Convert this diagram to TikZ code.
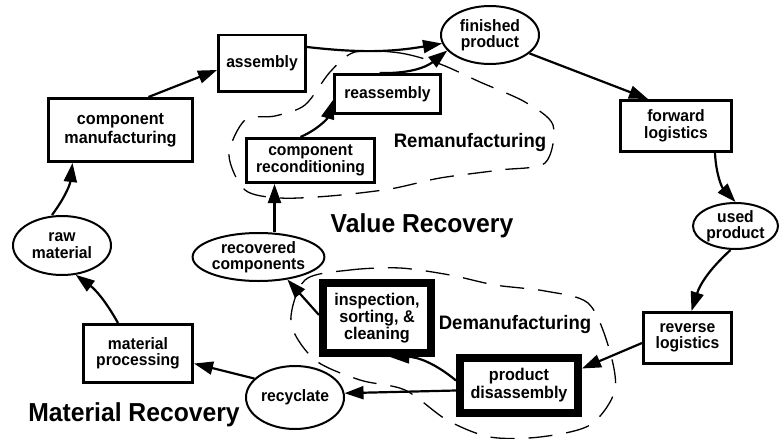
\documentclass[tikz,border=0pt]{standalone}
\usepackage{fontspec}
\setmainfont{Liberation Sans}[FakeStretch=0.95]
\usetikzlibrary{arrows.meta,calc,shapes.geometric}
\newcommand{\nodefnt}{\bfseries\fontsize{16.5}{16.5}\selectfont}
\begin{document}
\begin{tikzpicture}[x=1pt,y=-1pt,
  box/.style={draw, rectangle, line width=2.6pt, inner sep=0pt, align=center, font=\nodefnt},
  thickbox/.style={draw, rectangle, line width=8pt, inner sep=0pt, align=center, font=\nodefnt},
  oval/.style={draw, ellipse, line width=2pt, inner sep=0pt, align=center, font=\nodefnt},
  arr/.style={line width=2.2pt, -{Triangle[length=19pt,width=13pt]}},
  dashloop/.style={line width=1.3pt, dash pattern=on 24pt off 14pt},
  biglabel/.style={font=\bfseries\fontsize{26}{28}\selectfont},
  midlabel/.style={font=\bfseries\fontsize{19.5}{22}\selectfont}]
\fill[white] (0,0) rectangle (779,439);
\useasboundingbox (0,0) rectangle (779,439);

% nodes
\node[box, minimum width=87.4pt, minimum height=56.4pt] (asm) at (262,63) {assembly};
\node[box, minimum width=144.4pt, minimum height=63.4pt, font=\bfseries\fontsize{17}{19}\selectfont] (cm) at (120.5,130) {component\\manufacturing};
\node[oval, minimum width=98pt, minimum height=58pt] (fp) at (490,35) {finished\\product};
\node[box, minimum width=106.4pt, minimum height=39.4pt] (reasm) at (387.5,94) {reassembly};
\node[box, minimum width=128.4pt, minimum height=44.4pt] (crec) at (310.5,160.5) {component\\reconditioning};
\node[box, minimum width=111.4pt, minimum height=51.4pt] (fl) at (676,126) {forward\\logistics};
\node[oval, minimum width=85pt, minimum height=46pt] (up) at (735.5,226) {used\\product};
\node[box, minimum width=88.4pt, minimum height=51.4pt] (rl) at (687.5,338) {reverse\\logistics};
\node[thickbox, minimum width=118pt, minimum height=55pt, font=\bfseries\fontsize{17}{18}\selectfont] (pd) at (519,385.5) {product\\disassembly};
\node[thickbox, minimum width=108pt, minimum height=70pt, font=\bfseries\fontsize{17}{17}\selectfont] (isc) at (377,318) {inspection,\\sorting, \&\\cleaning};
\node[oval, minimum width=119pt, minimum height=48pt] (rc) at (258.5,257) {recovered\\components};
\node[oval, minimum width=98pt, minimum height=59pt] (rm) at (62,245.5) {raw\\material};
\node[box, minimum width=109.4pt, minimum height=58.4pt] (mp) at (138,353.5) {material\\processing};
\node[oval, minimum width=98pt, minimum height=63pt] (rcy) at (295,397.5) {recyclate};

% labels
\node[biglabel] (vr) at (422,226) {Value Recovery};
\node[biglabel] (mr) at (134,415) {Material Recovery};
\node[midlabel] (reman) at (470,142) {Remanufacturing};
\node[midlabel] (deman) at (515,324) {Demanufacturing};

% arrows
\draw[arr] ([xshift=28pt]cm.north) -- ([yshift=-7pt]asm.west);
\draw[arr] ([yshift=16pt]asm.east) to[bend right=8] (fp.190);
\draw[arr] ([xshift=-8pt]reasm.north) to[bend right=20] (fp.200);
\draw[arr] ([xshift=-10pt]crec.north) to[bend right=25] ([yshift=-6pt]reasm.west);
\draw[arr] ([xshift=16pt]rc.north) -- ([xshift=-36pt]crec.south);
\draw[arr] (fp.-25) -- ([xshift=-28pt]fl.north);
\draw[arr] ([xshift=39pt]fl.south) to[bend right=20] (up.north);
\draw[arr] ([xshift=-5pt]up.south) to[bend right=15] ([xshift=4pt]rl.north);
\draw[arr] ([yshift=-5pt]rl.west) -- ([yshift=17pt]pd.east);
\draw[arr] ([yshift=5pt]pd.west) to[bend right=20] ([xshift=13pt]isc.south);
\draw[arr] ([yshift=-5pt]pd.west) -- (rcy.5);
\draw[arr] ([yshift=3pt]isc.west) -- (rc.-38);
\draw[arr] (rcy.155) -- ([yshift=-10pt]mp.east);
\draw[arr] ([xshift=-20pt]mp.north) to[bend right=12] (rm.-65);
\draw[arr] ([xshift=-10pt]rm.north) to[bend right=15] ([xshift=-48pt]cm.south);

% dashed regions
\draw[dashloop] plot[smooth cycle] coordinates {(355,52) (400,53) (440,64) (480,82) (525,102) (553,125) (545,163) (500,170) (440,178) (390,189) (330,196) (280,198) (245,190) (229,155) (245,120) (275,116) (305,105) (330,72)};
\draw[dashloop] plot[smooth cycle] coordinates {(305,280) (350,270) (400,268) (450,275) (495,285) (545,291) (588,303) (608,345) (615,390) (590,425) (540,437) (490,437) (447,420) (405,390) (360,380) (315,360) (291,323)};
\end{tikzpicture}
\end{document}
